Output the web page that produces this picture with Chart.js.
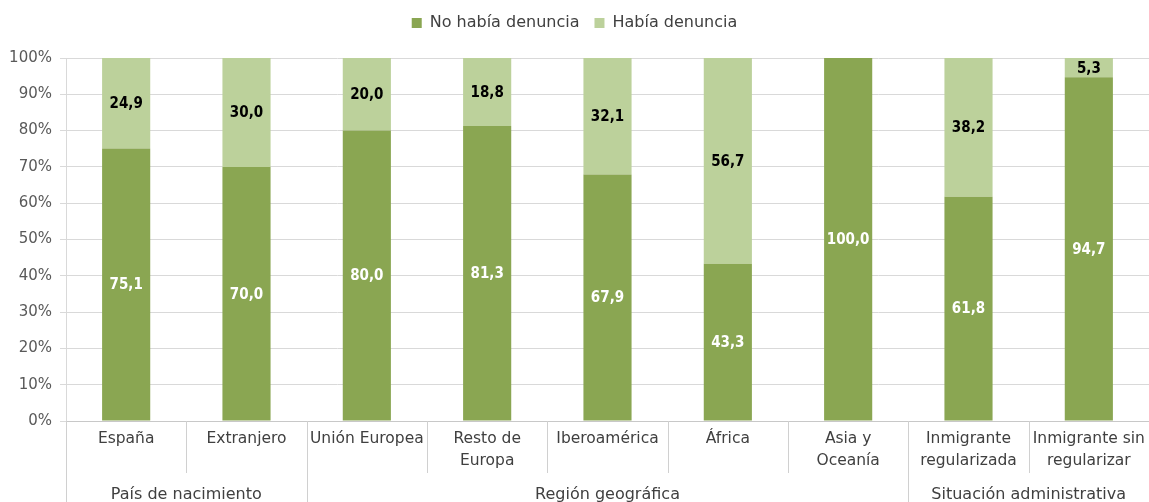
<!DOCTYPE html>
<html><head><meta charset="utf-8">
<script src="https://cdn.jsdelivr.net/npm/chart.js@4/dist/chart.umd.min.js"></script>
<style>html,body{margin:0;padding:0;background:#fff;}#wrap{width:1149px;height:502px;}</style>
</head><body><div id="wrap"><canvas id="c" width="1149" height="502"></canvas></div>
<script>
const categories = [["España"],["Extranjero"],["Unión Europea"],["Resto de","Europa"],["Iberoamérica"],["África"],["Asia y","Oceanía"],["Inmigrante","regularizada"],["Inmigrante sin","regularizar"]];
const groupNames = ["País de nacimiento","Región geográfica","Situación administrativa"];
const groupSizes = [2,5,2];
const seriesNames = ["No había denuncia","Había denuncia"];
const noDenuncia = [75.1,70.0,80.0,81.3,67.9,43.3,100.0,61.8,94.7];
const siDenuncia = [24.9,30.0,20.0,18.8,32.1,56.7,0,38.2,5.3];

const FONT = "DejaVu Sans";
const TXT = "#404040";
const DARK = "#8aa652";
const LIGHT = "#bcd19b";

const legendFix = {
  id:'legendFix',
  afterInit(chart){
    const lg = chart.legend; const f = lg.fit;
    lg.fit = function(){ f.call(this); this.height = 58; };
  }
};

const dataLabels = {
  id:'dataLabels',
  afterDatasetsDraw(chart){
    const ctx = chart.ctx;
    ctx.save();
    ctx.font = "bold 15px 'DejaVu Sans Condensed', 'DejaVu Sans'";
    ctx.textAlign = 'center';
    ctx.textBaseline = 'middle';
    chart.data.datasets.forEach((ds, di) => {
      const meta = chart.getDatasetMeta(di);
      meta.data.forEach((el, i) => {
        const v = ds.data[i];
        if (!v) return;
        const top = Math.max(el.y, chart.chartArea.top);
        const y = (top + el.base) / 2;
        ctx.fillStyle = di === 0 ? '#ffffff' : '#000000';
        ctx.fillText(v.toFixed(1).replace('.', ','), el.x, y + 1);
      });
    });
    ctx.restore();
  }
};

const axisGroups = {
  id:'axisGroups',
  afterDraw(chart){
    const ctx = chart.ctx;
    const xs = chart.scales.x;
    const area = chart.chartArea;
    const n = categories.length;
    const step = (area.right - area.left) / n;
    const edge = i => xs.getPixelForValue(i) - step / 2;
    const bottom = chart.height;
    ctx.save();
    ctx.strokeStyle = '#d0d0d0';
    ctx.lineWidth = 1;
    const longIdx = [0];
    let acc = 0;
    groupSizes.forEach(s => { acc += s; longIdx.push(acc); });
    for (let i = 0; i <= n; i++) {
      const x = Math.round(edge(i)) + 0.5;
      const isLong = longIdx.includes(i);
      ctx.beginPath();
      ctx.moveTo(x, area.bottom);
      ctx.lineTo(x, isLong ? bottom : area.bottom + 52);
      ctx.stroke();
    }
    ctx.font = "16px '" + FONT + "'";
    ctx.fillStyle = TXT;
    ctx.textAlign = 'center';
    ctx.textBaseline = 'middle';
    let start = 0;
    groupSizes.forEach((s, g) => {
      const cx = (edge(start) + edge(start + s)) / 2;
      ctx.fillText(groupNames[g], cx, 495);
      start += s;
    });
    ctx.restore();
  }
};

new Chart(document.getElementById('c'), {
  type: 'bar',
  data: {
    labels: categories,
    datasets: [
      { label: seriesNames[0], data: noDenuncia, backgroundColor: DARK, borderWidth: 0 },
      { label: seriesNames[1], data: siDenuncia, backgroundColor: LIGHT, borderWidth: 0 }
    ]
  },
  options: {
    responsive: false,
    animation: false,
    devicePixelRatio: 1,
    layout: { padding: 0 },
    datasets: { bar: { categoryPercentage: 1, barPercentage: 0.4 } },
    plugins: {
      legend: {
        position: 'top',
        labels: { boxWidth: 10, boxHeight: 10, padding: 15, color: TXT, font: { family: FONT, size: 16 } }
      },
      tooltip: { enabled: false }
    },
    scales: {
      x: {
        stacked: true,
        grid: { display: false, drawTicks: false },
        border: { display: true, color: '#c8c8c8' },
        ticks: { color: TXT, font: { family: FONT, size: 15.5, lineHeight: 1.4 }, padding: 7, maxRotation: 0, autoSkip: false },
        afterFit(s) { s.height = 81; s.paddingLeft = 0; s.paddingRight = 0; }
      },
      y: {
        stacked: true,
        min: 0, max: 100,
        grid: { color: '#d9d9d9', tickLength: 6 },
        border: { display: true, color: '#d9d9d9' },
        ticks: { stepSize: 10, color: '#595959', padding: 8, font: { family: FONT, size: 15 }, callback: v => v + '%' },
        afterFit(s) { s.width = 66; s.paddingTop = 0; s.paddingBottom = 0; }
      }
    }
  },
  plugins: [legendFix, dataLabels, axisGroups]
});
</script></body></html>
